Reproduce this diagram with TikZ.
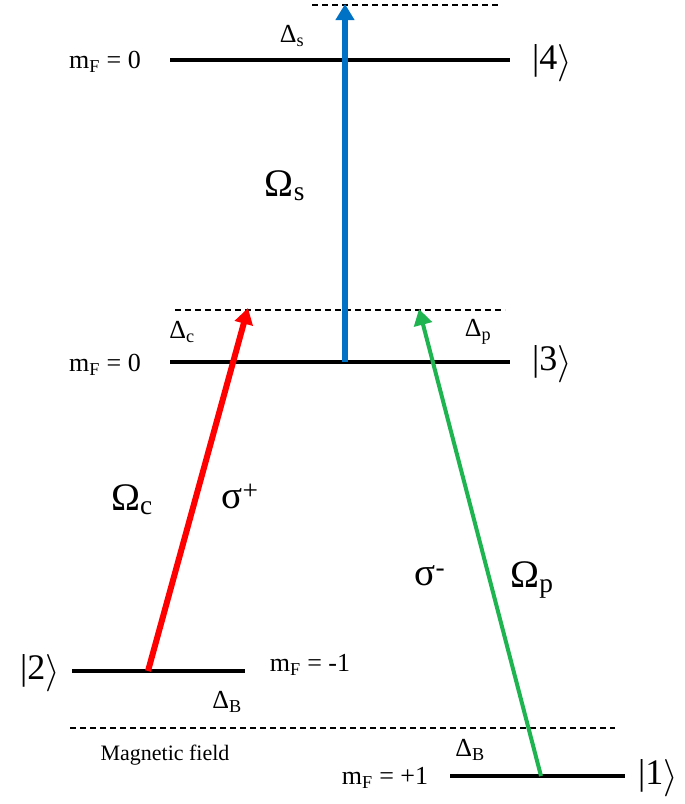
\documentclass[tikz,border=0pt]{standalone}
\usepackage{fontspec}
\setmainfont{Liberation Serif}
\usetikzlibrary{arrows.meta}
\newcommand{\myket}[1]{|#1\raisebox{-0.1em}{\scalebox{1.5}{$\rangle$}}}
\begin{document}
\begin{tikzpicture}[x=1pt,y=-1pt,
  lvl/.style={line width=4pt},
  dsh/.style={dash pattern=on 6pt off 4pt,line width=1.3pt},
  arr/.style={line width=6pt,-{Triangle[length=16pt,width=18pt]}},
  lab/.style={font=\fontsize{26}{28}\selectfont,inner sep=0pt},
  big/.style={font=\fontsize{39}{42}\selectfont,inner sep=0pt},
  ket/.style={font=\fontsize{36}{40}\selectfont,inner sep=0pt}]
\useasboundingbox (0,0) rectangle (685,804);
% levels
\coordinate (l4a) at (170,60); \coordinate (l4b) at (510,60);
\coordinate (l3a) at (170,362); \coordinate (l3b) at (510,362);
\coordinate (l2a) at (72,671); \coordinate (l2b) at (245,671);
\coordinate (l1a) at (450,776); \coordinate (l1b) at (625,776);
\draw[lvl] (l4a)--(l4b);
\draw[lvl] (l3a)--(l3b);
\draw[lvl] (l2a)--(l2b);
\draw[lvl] (l1a)--(l1b);
\coordinate (d4a) at (312,5); \coordinate (d4b) at (500,5);
\coordinate (d3a) at (175,310); \coordinate (d3b) at (505,310);
\coordinate (dBa) at (70,728); \coordinate (dBb) at (615,728);
\draw[dsh] (d4a)--(d4b);
\draw[dsh] (d3a)--(d3b);
\draw[dsh] (dBa)--(dBb);
% arrows
\coordinate (bs) at (345,362); \coordinate (be) at (345,4);
\coordinate (rs) at (148,671); \coordinate (re) at (248,308);
\coordinate (gs) at (541,776); \coordinate (ge) at (419,309);
\draw[arr,draw={rgb,255:red,0;green,114;blue,198},fill={rgb,255:red,0;green,114;blue,198}] (bs)--(be);
\draw[arr,draw={rgb,255:red,255;green,0;blue,0},fill=red] (rs)--(re);
\draw[arr,line width=4pt,draw={rgb,255:red,30;green,180;blue,80},fill={rgb,255:red,30;green,180;blue,80}] (gs)--(ge);
% labels
\node[lab] (m4) at (105,62) {m\textsubscript{F} = 0};
\node[lab] (m3) at (105,365) {m\textsubscript{F} = 0};
\node[lab] (m2) at (310,665) {m\textsubscript{F} = -1};
\node[lab] (m1) at (385,778) {m\textsubscript{F} = +1};
\node[ket] (k4) at (552,63) {\myket{4}};
\node[ket] (k3) at (552,364) {\myket{3}};
\node[ket] (k2) at (40,673) {\myket{2}};
\node[ket] (k1) at (658,778) {\myket{1}};
\node[lab] (ds) at (292,36) {Δ\textsubscript{s}};
\node[lab] (dc) at (182,332) {Δ\textsubscript{c}};
\node[lab] (dp) at (478,332) {Δ\textsubscript{p}};
\node[lab] (db2) at (227,702) {Δ\textsubscript{B}};
\node[lab] (db1) at (470,750) {Δ\textsubscript{B}};
\node[big] (os) at (285,186) {Ω\textsubscript{s}};
\node[big] (oc) at (132,500) {Ω\textsubscript{c}};
\node[big] (sp) at (240,496) {σ\textsuperscript{+}};
\node[big] (sm) at (430,576) {σ\textsuperscript{-}};
\node[big] (op) at (532,580) {Ω\textsubscript{p}};
\node[font=\fontsize{22}{24}\selectfont,inner sep=0pt] (mf) at (165,755) {Magnetic field};
\end{tikzpicture}
\end{document}
